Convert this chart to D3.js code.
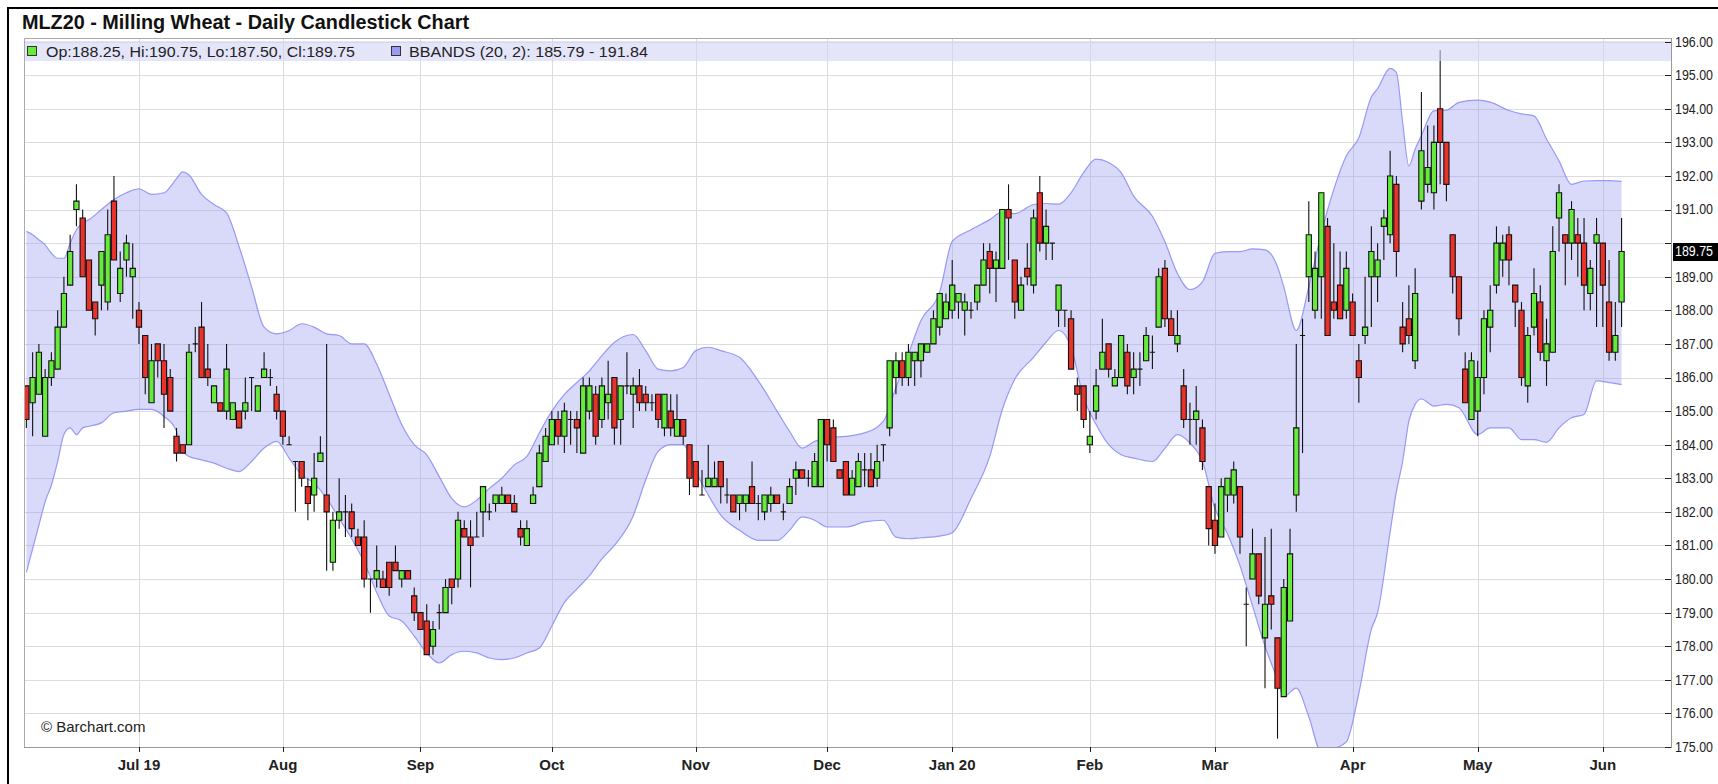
<!DOCTYPE html>
<html>
<head>
<meta charset="utf-8">
<title>MLZ20 - Milling Wheat - Daily Candlestick Chart</title>
<script src="https://cdn.jsdelivr.net/npm/d3@7/dist/d3.min.js"></script>
<style>
  html, body { margin: 0; padding: 0; background: #fff; overflow: hidden; }
  svg { display: block; }
</style>
</head>
<body>
<svg id="chart" width="1718" height="784"></svg>
<script>
// ---- data, one entry per trading day from 2019-06-05 ----
const startDay = "2019-06-05";
const holidays = ["2019-12-25", "2019-12-26", "2020-01-01", "2020-04-10", "2020-04-13", "2020-05-01"];
const monthLabels = ["Jul 19", "Aug", "Sep", "Oct", "Nov", "Dec", "Jan 20", "Feb", "Mar", "Apr", "May", "Jun"];

const openP = [
  185.75,185.25,185.5,184.25,186,186.25,187.5,188.75,191,190.75,
  189.5,188.25,188.75,188.25,191.25,188.5,189.5,189,188,187.25,
  185.25,187,186.5,186,184.25,184,184,187,187.5,186.25,
  185.25,185.25,185,184.75,185,185,186,185,186,186,
  185.5,185,184,183.5,183.5,182.75,182.5,183.5,182.5,180.5,
  181.75,182,182,181.25,181.25,180,180,180,180.5,180.5,
  180,180.25,179.5,179,178.75,178,179,179,180,180,
  181.5,181.25,181.25,182,182,182.25,182.25,182.5,182.25,181.5,
  181,182.25,182.75,183.5,184,184.75,184.25,184.75,184.75,183.75,
  185,185.5,184.75,185.25,186,184.75,185.75,185.5,185.75,185.5,
  185.25,185.5,184.5,185,184.25,184.75,184,183.5,182.5,182.75,
  182.75,183.5,182.5,182.5,182.25,182.25,182.75,182.25,182,182.25,
  182.5,182,182.25,183,183.25,183,182.75,182.75,184.75,184.5,
  183.25,183.5,182.5,182.75,183.25,183.25,183,184,184.5,186,
  186.5,186,186.5,186.5,186.75,187,187.5,187.75,188,188.25,
  188,188,188.25,188.75,189.75,189.25,189.25,191,189.5,188,
  189.25,188.75,191.5,190,190,188,188,187.75,185.75,185.75,
  184,185,186.25,187,185.75,186,186.75,186,186.25,186.5,
  186.75,187.5,189.25,187.75,187,185.75,184.75,184.75,184.5,182.75,
  181.75,181.25,182.5,182.5,182.75,179.25,180,180.75,178.25,179.5,
  178.25,176.5,178.75,182.5,187.25,189,188,189,190.5,188.25,
  188.75,188,188.25,186.5,187.25,189,189,190.5,190.25,191.75,
  187.5,187.75,186.5,191.25,191.75,191.5,194,193,190.25,189,
  186.25,184.75,185,186,187.5,188.75,189.5,190.25,188.75,188,
  185.75,187.5,188.25,186.5,186.75,190.75,190.25,190,190.25,190,
  188.5,190,190,188.25,186.75,188.25
];
const highP = [
  185.75,186.75,187,186.25,186.75,188,189,190.25,191.75,191,
  189.5,188.25,189.75,191,192,189.75,190.25,190,188.25,187.25,
  187,187,187,186.25,184.5,184,187,187.5,188.25,187,
  185.75,185.25,187,185.25,185,186,186,185.75,186.75,186.25,
  185.75,185,184.25,183.5,183.5,183,183.75,184.25,187,182,
  183,182.5,182.25,181.5,181.75,180,181,180.25,180.5,181,
  180.25,180.25,179.75,179,179.25,178.75,179.25,180,180,182,
  181.75,181.75,182,182.75,182.25,182.5,182.75,182.5,182.5,181.75,
  181.75,182.75,184,184.5,185,185,185.25,185,185,186,
  186,185.75,186,186.5,186,185.75,186.75,186,186.25,185.75,
  185.5,185.5,185.5,185.5,185.5,184.75,184,183.5,183.25,184,
  183.5,183.5,183,182.5,182.5,182.5,183.5,182.5,182.5,182.75,
  182.5,182.25,183,183.5,183.25,183.25,183.75,184.75,184.75,184.75,
  183.25,183.5,183.25,183.75,183.75,183.75,184,184,186.5,186.75,
  186.75,187,186.75,187,187,188,188.5,188.5,189.5,188.5,
  188.5,188.25,188.75,190,190,189.75,191,191.75,189.5,189,
  190,191,192,191,190,188.75,188,188,186,185.75,
  185,186.25,187.75,187,186.25,187.25,187,186.75,186.75,187.5,
  187.25,189.25,189.5,188,188,186.25,185.25,185.75,184.75,182.75,
  182.25,183,183,183.5,182.75,179.75,181.5,180.75,181.25,181.5,
  178.25,180,181.5,187,187.75,191.25,189.75,191.5,190.75,190,
  189.75,189.75,188.5,187,189,190.5,190,191,192.75,192,
  188.25,188.75,189.25,194.5,193.5,193.5,195.75,193,190.25,189,
  186.75,186.75,186.5,188,188.75,190.5,190.25,190.5,188.75,188.25,
  187.5,189.25,188.75,187.75,190.5,191.75,190.25,191.25,190.75,190.75,
  189.5,190.75,190,189.5,188.25,190.75
];
const lowP = [
  184.5,184.25,185.5,184.25,185.75,186.25,187.5,188.75,190.5,189,
  188,187.25,188,188,189.5,188.25,189,187.75,187,185.5,
  185.25,186,184.5,185,183.5,183.75,184,186.75,186,185.75,
  185.25,185,184.75,184.75,184.5,184.75,185,185,186,185.75,
  184.75,184,184,182,182.75,181.75,182,183.5,180.25,180.25,
  181.5,181.25,181.25,181,179.75,179,179.75,179.75,179.5,180.25,
  179.75,180,178.75,178.5,177.75,177.75,178.5,179,179.25,179.75,
  181.25,179.75,181.25,181.25,181.75,182,182.25,182.25,182,181,
  181,182.25,182.75,183.5,184,184,183.75,184,183.75,183.75,
  184.75,184,184.5,184.75,184,184,185.5,184.5,185,185,
  185,184.5,184.25,184.25,184.25,184,182.5,182.75,182.5,182.75,
  182.75,182.25,182.25,182,181.75,182,182.25,181.75,181.75,182,
  182.25,181.75,182.25,182.5,183,182.75,182.75,182.75,183.5,183.5,
  183,182.5,182.5,182.75,182.75,182.75,182.75,183.5,184.25,185.5,
  185.75,185.75,185.75,186,186.75,187,187.25,187.75,187.75,187.75,
  187.25,187.75,188,188.75,188.5,188.25,189.25,189.5,187.75,188,
  188.75,188.5,189.75,189.5,189.5,187.5,187.5,186.25,185,184.5,
  183.75,184.75,186.25,186,185.75,186,185.5,185.5,185.75,186.5,
  186.25,187.5,187.5,187.25,186.75,184.5,184,184,183.25,181,
  180.75,181.25,182,182.25,180.75,178,180,179.25,176.75,178.5,
  175.25,176.5,178.75,182,183.75,188.25,187.75,187.75,187.25,187.75,
  187.75,187.75,187.25,185.25,187,187.5,188.25,189.5,190,189,
  186.75,187,186.25,191,191.5,191,191.75,191.25,188.5,187.25,
  185.25,184.75,184.25,185.5,186.75,188.5,189,188.75,187.5,185.75,
  185.25,187.25,186.5,185.75,186.75,189.75,188.75,189.5,189,188,
  188,187.5,187.5,186.5,186.5,187.5
];
const closeP = [
  184.75,186,186.75,186,186.5,187.5,188.5,189.75,191.25,189,
  188,187.75,189.75,190.25,189.5,189.25,190,189.25,187.5,186,
  186.5,186.5,185.5,185,183.75,183.75,186.75,187,186,186,
  185.75,185,186.25,185.25,184.5,185.25,186,185.75,186.25,186,
  185,184.25,184,183.5,183,182.25,183,183.75,182,181.75,
  182,182,181.5,181,180,180,180.25,179.75,179.75,180.25,
  180.25,180,179,178.5,177.75,178.5,179,179.75,179.75,181.75,
  181.25,181,181.25,182.75,182,182.5,182.5,182.25,182,181.25,
  181.5,182.5,183.75,184.25,184.75,184.25,185,184.75,184.5,185.75,
  185.75,184.25,185.75,185.5,184.5,185.75,185.75,185.75,185.25,185.25,
  185.25,184.75,185.5,184.5,184.75,184.25,183,182.75,182.5,183,
  183,182.75,182.5,182,182.5,182.5,182.25,182.25,182.5,182.5,
  182.25,182,182.75,183.25,183,183,183.5,184.75,184,183.5,
  183,182.5,183,183.5,183.25,182.75,183.5,184,186.5,186.5,
  186,186.75,186.75,187,187,187.75,188.5,188.25,188.75,188.5,
  188.25,188,188.75,189.5,189.25,189.5,191,190.75,188.25,188.75,
  189,190.75,190,190.5,190,188.75,188,186.25,185.5,184.75,
  184.25,185.75,186.75,186.25,186,187.25,185.75,186.25,186.25,187.25,
  186.75,189,187.75,187.25,187.25,184.75,184.75,185,183.5,181.5,
  181,182.75,183,183.25,181.25,179.25,180.75,179.5,179.25,179.25,
  176.75,179.75,180.75,184.5,187.25,190.25,189.25,191.5,187.25,188,
  187.75,189.25,187.25,186,187.5,189.75,189.5,190.75,192,189.75,
  187,187.25,188.5,192.75,192.25,193,193,191.75,189,187.75,
  185.25,186.5,186,187.75,188,190,190,189.5,188.25,186,
  187.25,188.5,186.75,187,189.75,191.5,190,191,190,188.75,
  189.25,190.25,188.75,186.75,187.25,189.75
];

// Bollinger band (20, 2) as drawn, sampled at these trading-day indices
const bbIdx = [
  0,1,2,3,4,5,6,7,8,9,
  10,12,14,16,18,20,22,24,25,26,
  28,30,32,34,36,38,40,42,44,46,
  48,50,52,54,56,58,60,62,64,66,
  68,70,72,74,76,78,80,82,84,86,
  88,90,92,94,97,99,101,103,105,107,
  109,111,114,117,120,122,124,126,128,131,
  134,137,139,141,143,146,148,151,154,156,
  158,161,163,165,167,169,171,173,175,177,
  180,182,184,186,188,190,192,194,196,198,
  200,201,203,205,207,209,211,213,215,216,
  218,219,220,221,222,223,225,227,229,232,
  234,237,239,241,243,245,247,249,251,253,255
];
const bbUpper = [
  190.35,190.25,190.1,189.95,189.7,189.55,189.55,190.0,190.4,190.6,
  190.7,191.0,191.3,191.5,191.62,191.45,191.5,191.92,192.12,192.03,
  191.45,191.15,190.9,189.9,188.7,187.5,187.3,187.4,187.6,187.5,
  187.3,187.25,187.0,187.0,186.4,185.5,184.6,184.0,183.7,183.05,
  182.4,182.15,182.35,182.7,183.0,183.4,183.65,184.35,185.0,185.5,
  185.85,186.2,186.65,187.05,187.28,186.8,186.25,186.2,186.3,186.8,
  186.9,186.8,186.6,185.9,185.0,184.4,183.9,184.1,184.2,184.25,
  184.35,184.7,185.7,186.7,187.7,188.55,190.05,190.4,190.7,190.93,
  190.88,191.15,191.18,191.16,191.5,192.1,192.5,192.4,192.1,191.4,
  190.8,190.04,189.1,188.62,188.85,189.7,189.75,189.75,189.83,189.8,
  189.3,188.7,187.4,188.7,190.3,191.6,192.6,193.14,194.35,194.6,
  195.2,195.08,193.6,192.3,192.8,193.2,193.94,193.96,194.19,194.26,
  194.2,193.95,193.85,193.79,193.1,192.45,191.75,191.85,191.86,191.86,191.84
];
const bbLower = [
  180.2,180.9,181.6,182.3,182.8,183.5,184.3,184.5,184.3,184.5,
  184.55,184.65,184.95,185.0,185.05,185.05,184.84,184.4,183.8,183.65,
  183.55,183.45,183.3,183.2,183.5,183.9,184.1,183.6,183.1,182.85,
  182.4,181.8,181.2,180.5,179.6,178.9,178.75,178.3,177.8,177.5,
  177.75,177.85,177.8,177.65,177.6,177.65,177.8,177.95,178.6,179.3,
  179.7,180.1,180.6,181.0,181.88,182.95,183.8,184.0,184.0,183.2,
  182.5,181.9,181.45,181.15,181.15,181.45,181.85,181.75,181.55,181.55,
  181.7,181.75,181.25,181.2,181.23,181.28,181.38,182.4,183.65,185.04,
  185.95,186.6,187.05,187.4,186.9,185.4,184.6,184.0,183.7,183.6,
  183.5,183.89,184.3,184.05,183.5,182.1,181.35,180.4,179.2,178.0,
  177.0,176.5,176.75,175.9,174.85,174.95,175.15,176.6,178.5,179.0,
  181.4,182.6,183.5,184.7,185.2,185.36,185.15,185.2,185.1,184.3,
  184.5,184.5,184.15,184.15,184.07,184.5,184.8,184.9,185.9,185.85,185.79
];

// ---- trading calendar -> month ticks ----
const parseDay = d3.utcParse("%Y-%m-%d");
const fmtDay = d3.utcFormat("%Y-%m-%d");
const days = [];
for (let d = parseDay(startDay); days.length < closeP.length; d = d3.utcDay.offset(d, 1)) {
  const wd = d.getUTCDay();
  if (wd === 0 || wd === 6 || holidays.includes(fmtDay(d))) continue;
  days.push(d);
}
const monthStarts = days.map((d, i) => i).filter(i => i > 0 && days[i].getUTCMonth() !== days[i - 1].getUTCMonth());
const monthTicks = monthStarts.map((idx, k) => ({ idx, label: monthLabels[k] }));

const candles = closeP.map((c, i) => ({ i, o: openP[i], h: highP[i], l: lowP[i], c }));
const band = bbIdx.map((i, k) => ({ i, up: bbUpper[k], lo: bbLower[k] }));

// ---- layout ----
const svg = d3.select("#chart");
const font = '"Liberation Sans", Arial, sans-serif';
const box = { left: 24, right: 1671, top: 38, bottom: 747 };
const GREEN = "#66ea3c", RED = "#e8322a";

const x = d3.scaleLinear().domain([-0.38, 262.9]).range([box.left, box.right]);
const y = d3.scaleLinear().domain([175, 196]).range([box.bottom, 41.6]);
const px = v => Math.round(v) + 0.5;

svg.append("rect").attr("width", 1718).attr("height", 784).attr("fill", "#fff");

// outer frame
svg.append("path").attr("d", "M8,784V8H1718").attr("fill", "none").attr("stroke", "#000").attr("stroke-width", 2);

// title
svg.append("text").attr("x", 22).attr("y", 29)
  .attr("font-family", font).attr("font-size", 20).attr("font-weight", "bold").attr("fill", "#111")
  .attr("textLength", 447).attr("lengthAdjust", "spacingAndGlyphs")
  .text("MLZ20 - Milling Wheat - Daily Candlestick Chart");

svg.append("defs").append("clipPath").attr("id", "plotClip")
  .append("rect").attr("x", box.left).attr("y", box.top).attr("width", box.right - box.left).attr("height", box.bottom - box.top);

// grid
const priceTicks = d3.range(175, 197);
const grid = svg.append("g").attr("stroke", "#dcdcdc").attr("stroke-width", 1);
grid.selectAll("line.h").data(priceTicks.filter(p => p > 175)).join("line").attr("class", "h")
  .attr("x1", box.left).attr("x2", box.right)
  .attr("y1", d => px(y(d))).attr("y2", d => px(y(d)));
grid.selectAll("line.v").data(monthTicks).join("line").attr("class", "v")
  .attr("x1", d => px(x(d.idx))).attr("x2", d => px(x(d.idx)))
  .attr("y1", box.top).attr("y2", box.bottom);

// bollinger band
const plot = svg.append("g").attr("clip-path", "url(#plotClip)");
const area = d3.area().curve(d3.curveMonotoneX)
  .x(d => x(d.i)).y0(d => y(d.lo)).y1(d => y(d.up));
plot.append("path").datum(band).attr("d", area).attr("fill", "#9a9af0").attr("fill-opacity", 0.38);
["up", "lo"].forEach(k => {
  plot.append("path").datum(band)
    .attr("d", d3.line().curve(d3.curveMonotoneX).x(d => x(d.i)).y(d => y(d[k])))
    .attr("fill", "none").attr("stroke", "#8a8af6").attr("stroke-width", 1.2).attr("stroke-opacity", 0.85);
});

// candles
const half = 2.6;
const cg = plot.append("g").selectAll("g").data(candles).join("g");
cg.append("line")
  .attr("x1", d => x(d.i)).attr("x2", d => x(d.i))
  .attr("y1", d => y(d.h)).attr("y2", d => y(d.l))
  .attr("stroke", "#111").attr("stroke-width", 1.1);
cg.append("path")
  .attr("d", d => {
    const cx = x(d.i);
    const x0 = cx - half, x1 = cx + half;
    const y0 = y(Math.max(d.o, d.c)), y1 = y(Math.min(d.o, d.c));
    return `M${x0},${y0}H${x1}V${y1}H${x0}Z`;
  })
  .attr("fill", d => d.c > d.o ? GREEN : d.c < d.o ? RED : "#111")
  .attr("stroke", "#111").attr("stroke-width", 1.1);

// legend strip
svg.append("rect").attr("x", box.left + 1).attr("y", 41).attr("width", box.right - box.left - 1).attr("height", 20)
  .attr("fill", "#d4d4f6").attr("fill-opacity", 0.6);
const last = candles[candles.length - 1];
const lastBand = band[band.length - 1];
svg.append("rect").attr("x", 27.5).attr("y", 46.5).attr("width", 9).attr("height", 9)
  .attr("fill", GREEN).attr("stroke", "#333");
svg.append("text").attr("x", 46).attr("y", 56.5).attr("font-family", font).attr("font-size", 15).attr("fill", "#222")
  .attr("textLength", 309).attr("lengthAdjust", "spacingAndGlyphs")
  .text(`Op:${last.o.toFixed(2)}, Hi:${last.h.toFixed(2)}, Lo:${last.l.toFixed(2)}, Cl:${last.c.toFixed(2)}`);
svg.append("rect").attr("x", 391.5).attr("y", 46.5).attr("width", 9).attr("height", 9)
  .attr("fill", "#9a9af0").attr("stroke", "#333");
svg.append("text").attr("x", 409).attr("y", 56.5).attr("font-family", font).attr("font-size", 15).attr("fill", "#222")
  .attr("textLength", 239).attr("lengthAdjust", "spacingAndGlyphs")
  .text(`BBANDS (20, 2): ${lastBand.lo.toFixed(2)} - ${lastBand.up.toFixed(2)}`);

// plot frame
svg.append("path").attr("d", `M${box.left + 0.5},${box.bottom}V${box.top + 0.5}H${box.right}`)
  .attr("fill", "none").attr("stroke", "#aaa");
svg.append("line").attr("x1", box.left).attr("x2", box.right + 1).attr("y1", box.bottom + 0.5).attr("y2", box.bottom + 0.5)
  .attr("stroke", "#999");
svg.append("line").attr("x1", box.right + 0.5).attr("x2", box.right + 0.5).attr("y1", box.top).attr("y2", box.bottom + 1)
  .attr("stroke", "#999");

// right price axis (labels hidden behind the last-price marker are left out)
const lastY = y(last.c);
const ya = svg.append("g");
ya.selectAll("line").data(priceTicks).join("line")
  .attr("x1", box.right - 6).attr("x2", box.right)
  .attr("y1", d => px(y(d))).attr("y2", d => px(y(d)))
  .attr("stroke", "#222");
ya.selectAll("text").data(priceTicks.filter(p => Math.abs(y(p) - lastY) > 14)).join("text")
  .attr("x", box.right + 4).attr("y", d => y(d)).attr("dy", "0.35em")
  .attr("font-family", font).attr("font-size", 14).attr("fill", "#222")
  .attr("textLength", 38).attr("lengthAdjust", "spacingAndGlyphs")
  .text(d => d.toFixed(2));

// last price marker
svg.append("rect").attr("x", box.right + 2).attr("y", Math.round(lastY) - 9).attr("width", 60).attr("height", 18).attr("fill", "#000");
svg.append("text").attr("x", box.right + 4).attr("y", lastY).attr("dy", "0.35em")
  .attr("font-family", font).attr("font-size", 14).attr("fill", "#fff")
  .attr("textLength", 38).attr("lengthAdjust", "spacingAndGlyphs")
  .text(last.c.toFixed(2));

// bottom month axis
const xa = svg.append("g");
xa.selectAll("line").data(monthTicks).join("line")
  .attr("x1", d => px(x(d.idx))).attr("x2", d => px(x(d.idx)))
  .attr("y1", box.bottom).attr("y2", box.bottom + 5)
  .attr("stroke", "#222");
xa.selectAll("text").data(monthTicks).join("text")
  .attr("x", d => x(d.idx)).attr("y", 770)
  .attr("text-anchor", "middle")
  .attr("font-family", font).attr("font-size", 15).attr("font-weight", "bold").attr("fill", "#222")
  .text(d => d.label);

// credit
svg.append("text").attr("x", 41).attr("y", 732)
  .attr("font-family", font).attr("font-size", 15).attr("fill", "#222")
  .text("\u00a9 Barchart.com");
</script>
</body>
</html>
